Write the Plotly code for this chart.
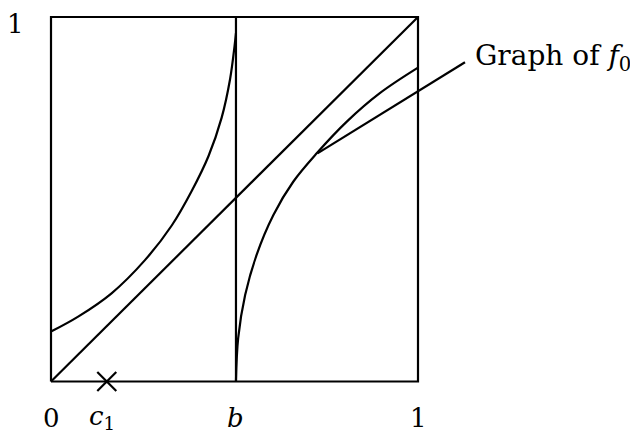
import plotly.graph_objects as go

# ---- data ----
b_pos = 0.504
c1_pos = 0.152

left_x = [0.0, 0.074, 0.165, 0.256, 0.329, 0.383, 0.429, 0.465, 0.488, 0.500, 0.504]
left_y = [0.137, 0.178, 0.242, 0.333, 0.428, 0.522, 0.618, 0.724, 0.830, 0.919, 0.956]

right_x = [0.504, 0.510, 0.529, 0.560, 0.606, 0.660, 0.724, 0.806, 0.896, 1.0]
right_y = [0.0, 0.119, 0.237, 0.347, 0.457, 0.548, 0.626, 0.713, 0.791, 0.861]

box_x = [0, 1, 1, 0, 0]
box_y = [0, 0, 1, 1, 0]
diag_x = [0, 1]
diag_y = [0, 1]

pointer_x = [0.726, 1.128]
pointer_y = [0.626, 0.876]

xlabels = ["0", "<i>c</i><sub>1</sub>", "<i>b</i>", "1"]
xlabel_pos = [0.0, 0.14, b_pos, 1.0]

FONT = "DejaVu Serif"
LW = 2.2
BLACK = "black"

# page offset compensation (body margin of the html page)
OFF = 8
W, H = 638 - OFF, 435 - OFF
X0, X1 = 51 - OFF, 418 - OFF      # pixel positions of x=0 and x=1
Y0, Y1 = 381.5 - OFF, 17 - OFF    # pixel positions of y=0 and y=1
sx = X1 - X0
sy = Y0 - Y1

fig = go.Figure()

def line(x, y, shape="linear"):
    fig.add_trace(go.Scatter(x=x, y=y, mode="lines",
                             line=dict(color=BLACK, width=LW, shape=shape, smoothing=1.0),
                             hoverinfo="skip", showlegend=False, cliponaxis=False))

line(box_x, box_y)
line(diag_x, diag_y)
line([b_pos, b_pos], [0, 1])
line(left_x, left_y, "spline")
line(right_x, right_y, "spline")
line(pointer_x, pointer_y)

fig.add_trace(go.Scatter(x=[c1_pos], y=[0], mode="markers",
                         marker=dict(symbol="x-thin", size=19,
                                     line=dict(color=BLACK, width=2.2)),
                         hoverinfo="skip", showlegend=False, cliponaxis=False))

for t, xp in zip(xlabels, xlabel_pos):
    fig.add_annotation(x=xp, y=-0.10, text=t, showarrow=False,
                       font=dict(family=FONT, size=26, color=BLACK),
                       xanchor="center", yanchor="middle")

fig.add_annotation(x=-0.098, y=0.982, text="1", showarrow=False,
                   font=dict(family=FONT, size=26, color=BLACK),
                   xanchor="center", yanchor="middle")

fig.add_annotation(x=1.150, y=0.889, text="Graph of <i>f</i><sub>0</sub>",
                   showarrow=False, font=dict(family=FONT, size=28, color=BLACK),
                   xanchor="left", yanchor="middle")

fig.update_layout(
    width=W, height=H,
    margin=dict(l=0, r=0, t=0, b=0),
    paper_bgcolor="white", plot_bgcolor="white",
    xaxis=dict(range=[-X0 / sx, (W - X0) / sx], visible=False, fixedrange=True),
    yaxis=dict(range=[-(H - Y0) / sy, 1 + Y1 / sy], visible=False, fixedrange=True),
)

fig.write_html("out.html")
